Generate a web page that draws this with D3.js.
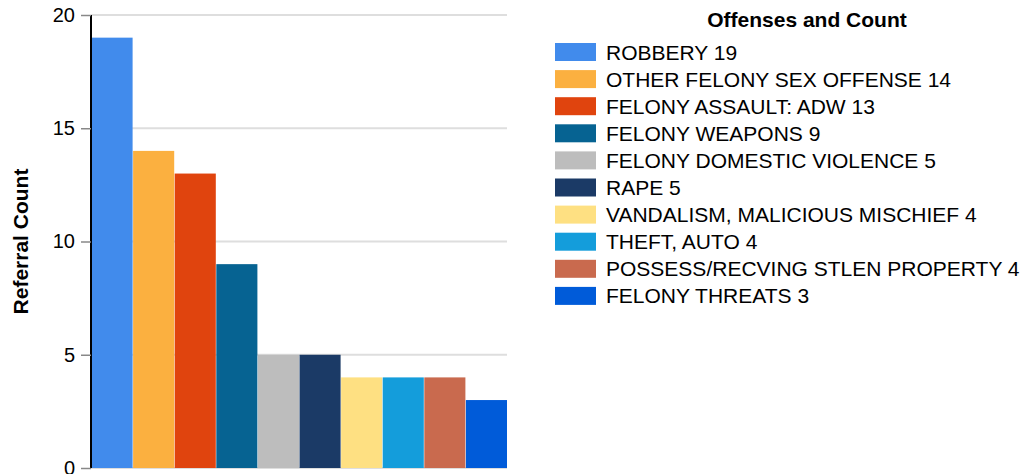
<!DOCTYPE html>
<html>
<head>
<meta charset="utf-8">
<script src="https://cdn.jsdelivr.net/npm/d3@7"></script>
<style>
	body { margin: 0; background: #fff; font-family: Arial, "Liberation Sans", sans-serif; }
</style>
</head>
<body>
<div id="chart"></div>
<script>
var offenses = ["ROBBERY", "OTHER FELONY SEX OFFENSE", "FELONY ASSAULT: ADW", "FELONY WEAPONS",
	"FELONY DOMESTIC VIOLENCE", "RAPE", "VANDALISM, MALICIOUS MISCHIEF", "THEFT, AUTO",
	"POSSESS/RECVING STLEN PROPERTY", "FELONY THREATS"];
var counts = [19, 14, 13, 9, 5, 5, 4, 4, 4, 3];
var colors = ["#418bec", "#fbb040", "#e0440e", "#066392", "#bdbdbd", "#1b3a66",
	"#fee082", "#149ddb", "#c96a4e", "#005bd9"];
var yTicks = [0, 5, 10, 15, 20];

var width = 1025,
	height = 474;

var margin = {left: 91, top: 15, right: 518, bottom: 6};

var svg = d3.select("#chart")
	.append("svg")
		.attr("width", width)
		.attr("height", height);

var x = d3.scaleBand()
	.domain(offenses)
	.range([margin.left, width - margin.right])
	.padding(0);

var y = d3.scaleLinear()
	.domain([0, 20])
	.range([height - margin.bottom, margin.top]);

// gridlines
svg.append("g")
	.selectAll("line")
	.data(yTicks)
	.join("line")
		.attr("x1", margin.left)
		.attr("x2", width - margin.right)
		.attr("y1", d => y(d))
		.attr("y2", d => y(d))
		.attr("stroke", "#dedede")
		.attr("stroke-width", 2);

// bars
svg.append("g")
	.selectAll("rect")
	.data(counts)
	.join("rect")
		.attr("x", (d, i) => x(offenses[i]) + 0.5)
		.attr("y", d => y(d))
		.attr("width", x.bandwidth() - 0.5)
		.attr("height", d => y(0) - y(d))
		.attr("fill", (d, i) => colors[i]);

// y axis
var yAxis = svg.append("g")
	.attr("transform", "translate(" + margin.left + ",0)")
	.call(d3.axisLeft(y).tickValues(yTicks).tickSize(10).tickPadding(6));

yAxis.select(".domain")
	.attr("stroke", "#000")
	.attr("stroke-width", 2)
	.attr("d", "M0," + y(20) + "V" + y(0));
yAxis.selectAll(".tick line").attr("stroke", "#888").attr("stroke-width", 1.5);
yAxis.selectAll(".tick text")
	.attr("font-size", 20)
	.attr("font-family", "Arial, 'Liberation Sans', sans-serif")
	.attr("fill", "#000");

svg.append("text")
	.attr("transform", "translate(28," + (margin.top + (y(0) - y(20)) / 2) + ") rotate(-90)")
	.attr("text-anchor", "middle")
	.attr("font-size", 21)
	.attr("font-weight", "bold")
	.text("Referral Count");

// legend
var legend = svg.append("g");

legend.append("text")
	.attr("x", 807)
	.attr("y", 27)
	.attr("text-anchor", "middle")
	.attr("font-size", 21)
	.attr("font-weight", "bold")
	.text("Offenses and Count");

var rows = legend.selectAll("g.row")
	.data(offenses)
	.join("g")
		.attr("class", "row")
		.attr("transform", (d, i) => "translate(555," + (52 + i * 27.1) + ")");

rows.append("rect")
	.attr("x", 0)
	.attr("y", -9)
	.attr("width", 41)
	.attr("height", 18)
	.attr("fill", (d, i) => colors[i]);

rows.append("text")
	.attr("x", 51)
	.attr("y", 7.5)
	.attr("font-size", 21)
	.text((d, i) => d + " " + counts[i]);
</script>
</body>
</html>
